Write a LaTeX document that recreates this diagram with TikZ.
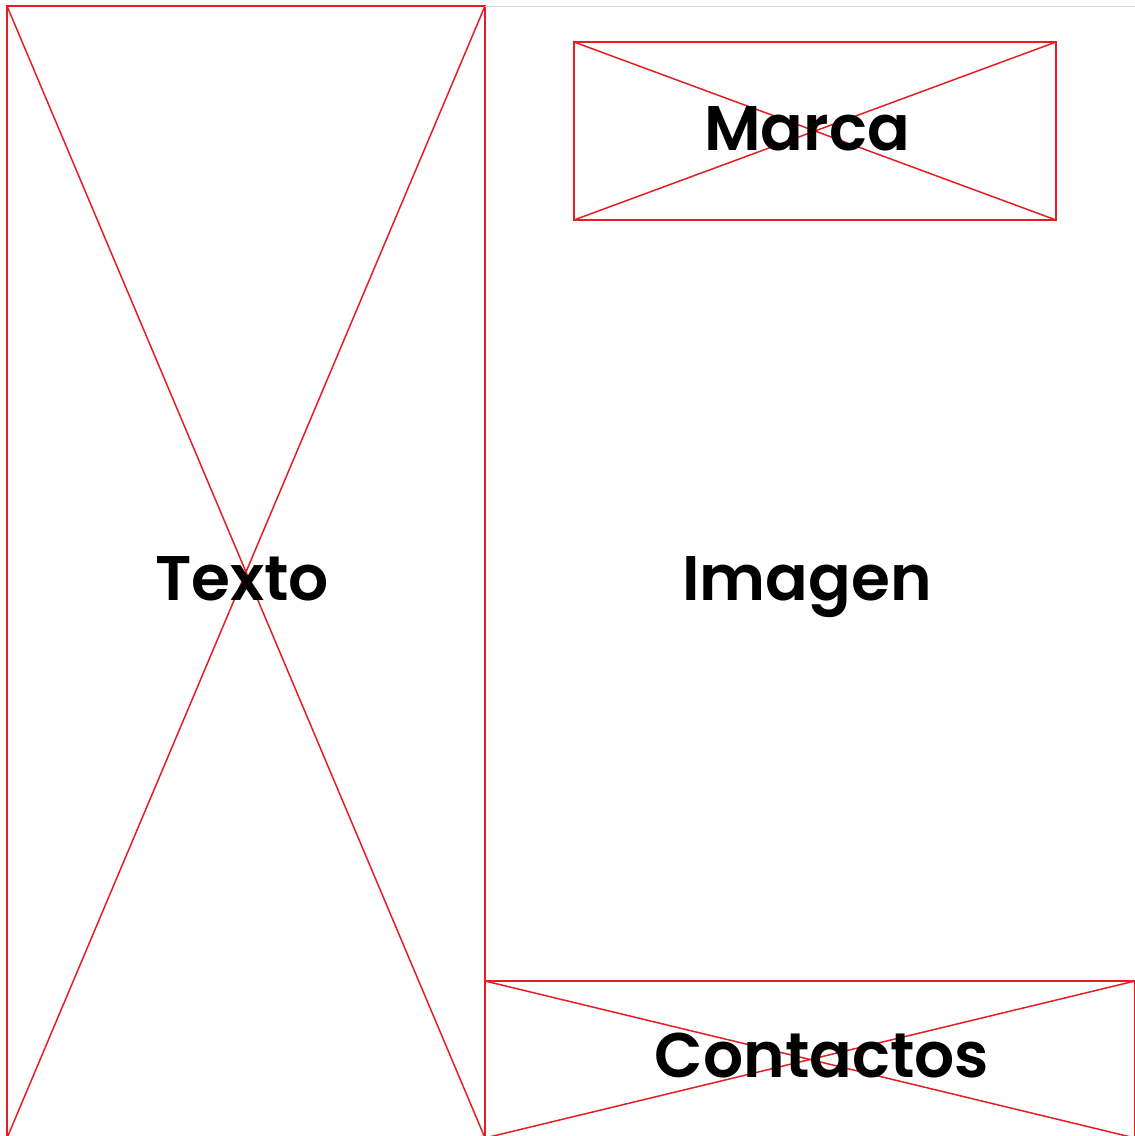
\documentclass[tikz,border=0pt]{standalone}
\usepackage{fontspec}
\setmainfont{Poppins}[BoldFont={Poppins SemiBold}]
\usepackage{tikz}

\definecolor{wfred}{RGB}{228,30,36}
\definecolor{wfgray}{RGB}{220,220,220}

\begin{document}
\begin{tikzpicture}[x=1pt, y=-1pt,
  every node/.style={inner sep=0pt, outer sep=0pt},
  frame/.style={draw=wfred, line width=1.5pt},
  label/.style={font=\fontsize{63}{70}\selectfont\bfseries, text=black, anchor=base}]
\useasboundingbox (0,0) rectangle (1135,1136);

% the three placeholder boxes
\node[frame, minimum width=478pt, minimum height=1132pt] (texto) at (246,572) {};
\node[frame, minimum width=482pt, minimum height=178pt] (marca) at (815,131) {};
\node[frame, minimum width=650pt, minimum height=157pt] (contactos) at (810,1059.5) {};

% crosses
\draw[wfred, line width=1.5pt] (texto.north west) -- (texto.south east);
\draw[wfred, line width=1.5pt] (texto.north east) -- (texto.south west);
\draw[wfred, line width=1.5pt] (marca.north west) -- (marca.south east);
\draw[wfred, line width=1.5pt] (marca.north east) -- (marca.south west);
\draw[wfred, line width=1.5pt] (contactos.north west) -- (contactos.south east);
\draw[wfred, line width=1.5pt] (contactos.north east) -- (contactos.south west);

% top edge of the right column
\coordinate (topright) at (1135,6);
\draw[wfgray, line width=1pt] (texto.north east) -- (topright);

% labels
\node[label] (textolbl) at (242,600) {Texto};
\node[label] (imagenlbl) at (807,600) {Imagen};
\node[label] (marcalbl) at (807,150) {Marca};
\node[label] (contactoslbl) at (822,1077) {Contactos};
\end{tikzpicture}
\end{document}
